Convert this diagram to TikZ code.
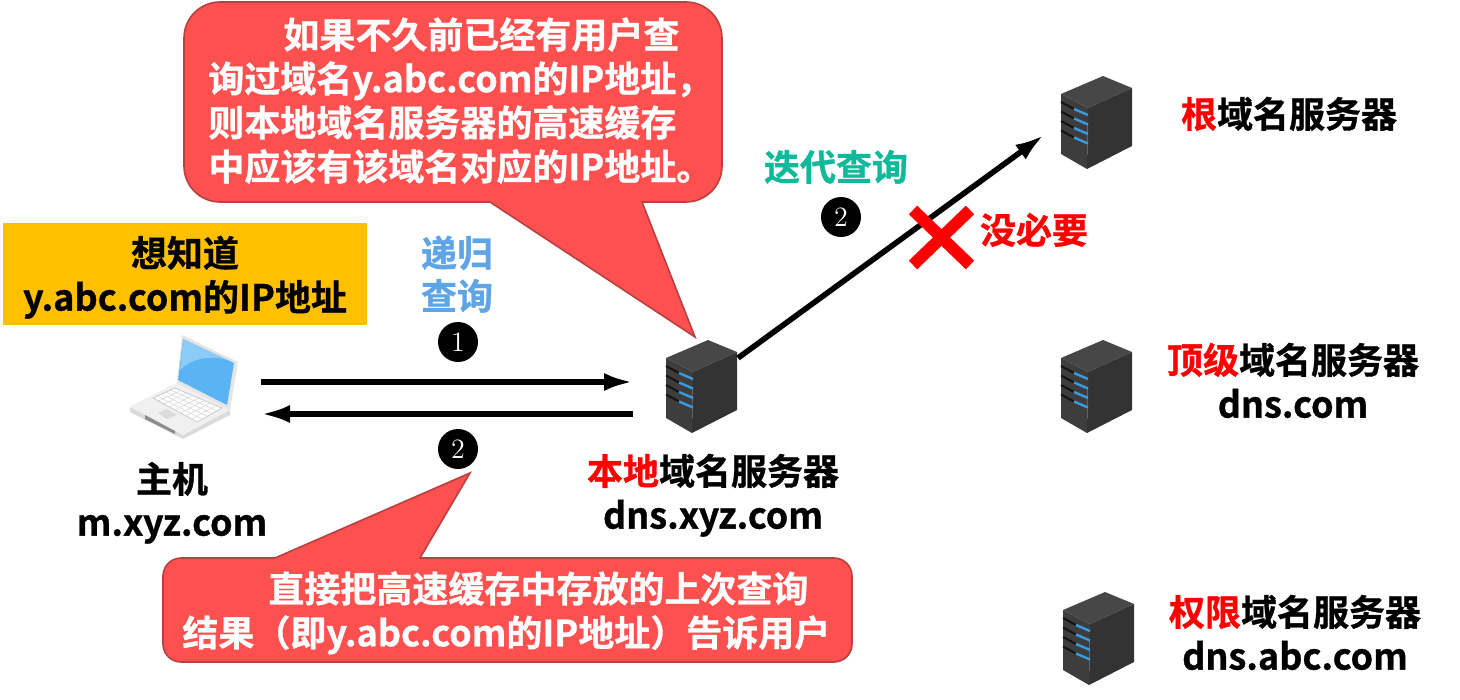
\documentclass[tikz,border=0pt]{standalone}
\usepackage{fontspec}
\setmainfont{Noto Sans CJK SC Bold}[RawFeature={embolden=0.9}]
\usepackage{tikz}
\usetikzlibrary{arrows.meta}
\definecolor{calloutred}{HTML}{FF5050}
\definecolor{calloutedge}{HTML}{B84040}
\definecolor{labelblue}{HTML}{5FA5E6}
\definecolor{labelteal}{HTML}{10B99A}
\definecolor{boxorange}{HTML}{FFC000}
\definecolor{screenblue}{HTML}{5AB4F3}
\definecolor{screenlight}{HTML}{8CCBF5}
\definecolor{ledblue}{HTML}{3A9AE0}
\tikzset{
	lab/.style={font=\fontsize{18}{22}\selectfont,inner sep=0pt,text height=15pt,text depth=1.4pt},
	calltext/.style={font=\fontsize{18}{22}\selectfont,inner sep=0pt,text=white,align=left,anchor=north west},
	arr/.style={black,line width=2.8pt,-{Latex[length=14.5pt,width=9pt]}},
	cross/.style={red,line width=6pt},
	callout/.style={fill=calloutred,draw=calloutedge,line width=0.8pt},
	numdot/.style={circle,fill=black,text=white,minimum size=20pt,inner sep=0pt,font=\fontfamily{lmr}\fontsize{14}{14}\selectfont},
	server/.pic={
		\fill[black!72] (0,0) -- (42,-18) -- (71,-6) -- (27,14) -- cycle;
		\fill[black!76] (0,0) -- (27,14) -- (26,75) -- (0,60) -- cycle;
		\fill[black!80] (27,14) -- (71,-6) -- (71,52) -- (26,75) -- cycle;
		\foreach \i in {0,1,2,3}{
			\draw[black!92,line width=1pt] (0,8+9.5*\i) -- (13,15+9.5*\i);
			\draw[ledblue,line width=1.2pt] (13,15+9.5*\i) -- (27,21+9.5*\i);
		}
	},
}
\begin{document}
\begin{tikzpicture}[x=0.5pt,y=-0.5pt]
	\useasboundingbox (0,0) rectangle (1460,700);
	% callouts
	\draw[callout] (220,2) -- (686,2) arc[start angle=-90,end angle=0,radius=36] -- (722,166) arc[start angle=0,end angle=90,radius=36] -- (642,202) -- (695,337) -- (490,202) -- (220,202) arc[start angle=90,end angle=180,radius=36] -- (184,38) arc[start angle=180,end angle=270,radius=36] -- cycle;
	\draw[callout] (181,558) -- (275,558) -- (470,473) -- (420,558) -- (834,558) arc[start angle=-90,end angle=0,radius=18] -- (852,644) arc[start angle=0,end angle=90,radius=18] -- (181,662) arc[start angle=90,end angle=180,radius=18] -- (163,576) arc[start angle=180,end angle=270,radius=18] -- cycle;
	\node[calltext] (tipa) at (208,17) {\hspace*{37.5pt}如果不久前已经有用户查\\询过域名y.abc.com的IP地址，\\则本地域名服务器的高速缓存\\中应该有该域名对应的IP地址。};
	\node[calltext] (tipb) at (182,571) {\hspace*{43pt}直接把高速缓存中存放的上次查询\\结果（即y.abc.com的IP地址）告诉用户};
	% host
	\fill[boxorange] (3,223) rectangle (367,325);
	\node[lab] (want) at (185,253) {想知道};
	\node[lab] (wantip) at (185,297) {y.abc.com的IP地址};
	\fill[black!14] (130,407) -- (177,383) -- (230,410) -- (230,415) -- (183,439) -- (130,412) -- cycle;
	\fill[black!6] (130,407) -- (177,383) -- (230,410) -- (183,435) -- cycle;
	\fill[black!45] (145,415) -- (175,431) -- (175,434) -- (145,419) -- cycle;
	\fill[white,draw=black!25,line width=0.3pt] (153,398) -- (175,388) -- (222,408) -- (197,422) -- cycle;
	\foreach \i in {1,2,3,4}{
		\draw[black!15,line width=0.3pt] (153+4.4*\i,398-2*\i) -- (197+5*\i,422-2.8*\i);
	}
	\foreach \i in {1,...,7}{
		\draw[black!15,line width=0.3pt] (153+5.5*\i,398+3*\i) -- (175+5.9*\i,388+2.5*\i);
	}
	\fill[black!14] (158,413) -- (167,409) -- (177,415) -- (167,419) -- cycle;
	\fill[black!10] (182,335) -- (238,362) -- (230,410) -- (177,383) -- cycle;
	\fill[screenblue] (183,339) -- (234,363) -- (227,405) -- (178,380) -- cycle;
	\fill[screenlight] (183,339) -- (234,363) .. controls (220,355) and (195,355) .. (180,370) -- cycle;
	\node[lab] (host) at (172,479) {主机};
	\node[lab] (hostname) at (172,522) {m.xyz.com};
	% servers
	\pic at (666,358) {server};
	\pic at (1061,94) {server};
	\pic at (1061,358) {server};
	\pic at (1063,610) {server};
	\node[lab] (local) at (713,471) {\textcolor{red}{本地}域名服务器};
	\node[lab] (localname) at (713,515) {dns.xyz.com};
	\node[lab] (root) at (1289,114) {\textcolor{red}{根}域名服务器};
	\node[lab] (top) at (1293,360) {\textcolor{red}{顶级}域名服务器};
	\node[lab] (topname) at (1293,404) {dns.com};
	\node[lab] (auth) at (1295,612) {\textcolor{red}{权限}域名服务器};
	\node[lab] (authname) at (1295,656) {dns.abc.com};
	% queries
	\coordinate (hostout) at (261,382);
	\coordinate (localin) at (633,382);
	\coordinate (localout) at (633,414);
	\coordinate (hostin) at (261,414);
	\coordinate (localup) at (738,358);
	\coordinate (rootin) at (1044,135);
	\draw[arr] (hostout) -- (localin);
	\draw[arr] (localout) -- (hostin);
	\draw[arr] (localup) -- (rootin);
	\node[lab,text=labelblue] (rec) at (457,253) {递归};
	\node[lab,text=labelblue] (recb) at (457,296) {查询};
	\node[numdot] (one) at (458,342) {1};
	\node[numdot] (two) at (458,449) {2};
	\node[lab,text=labelteal] (iter) at (836,167) {迭代查询};
	\node[numdot] (twob) at (841,217) {2};
	\draw[cross] (913,210) -- (970,265);
	\draw[cross] (970,210) -- (913,265);
	\node[lab,text=red] (noneed) at (1034,230) {没必要};
\end{tikzpicture}
\end{document}
